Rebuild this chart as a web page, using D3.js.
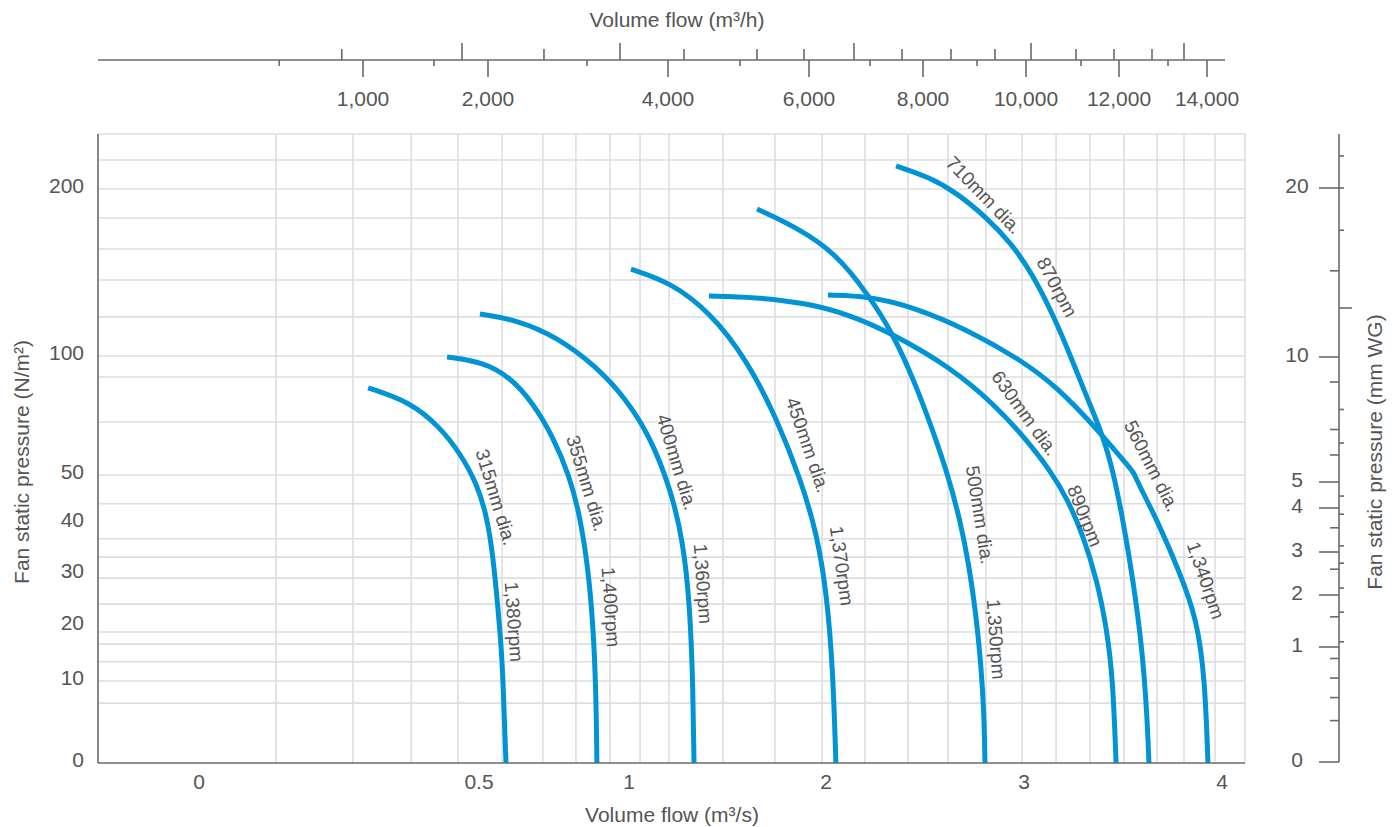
<!DOCTYPE html>
<html><head><meta charset="utf-8">
<script src="https://cdn.jsdelivr.net/npm/d3@7"></script>
<style>
body{margin:0;background:#fff}
svg{display:block}
text{font-family:"Liberation Sans",Arial,Helvetica,sans-serif;fill:#555}
</style></head><body>
<svg id="chart" width="1399" height="827"></svg>
<script>
// ---------------- DATA ----------------
// bottom axis: volume flow (m³/s)
const xTickValues = [0, 0.5, 1, 2, 3, 4];
const xGridValues = [0.1375,0.275,0.379,0.4625,0.577,0.713,0.823,0.937,1.056,1.203,1.477,1.741,1.98,2.197,2.414,2.616,2.808,2.99,3.162,3.333,3.505,3.672,3.808,3.965];
// left axis: fan static pressure (N/m²)
const yTickValues = [0, 10, 20, 30, 40, 50, 100, 200];
const yGridValues = [7.3,10,13.5,16.7,18.9,24.2,29.2,33.3,36.9,44,50,72.3,91.2,100,123.4,145.5,164.1,182.6,200,217.4];
// right axis: fan static pressure (mm WG)
const wgTickValues = [0, 1, 2, 3, 4, 5, 10, 20];
const wgRightMinor = [21.9, 20, 17.5, 7.9, 6.56, 4.46, 3.86, 3.14, 2.74, 2.16, 1.67, 1.1];
const wgRightLong = [12.9];
const wgLeftMinor = [15.1, 9, 7.1, 6.08, 3.55, 2.6, 1.58, 0.9, 0.73, 0.56, 0.36];
// top axis: volume flow (m³/h)
const hTickValues = [1000, 2000, 4000, 6000, 8000, 10000, 12000, 14000];
const hTallAbove = [1792, 3467, 6789, 10108, 13477];
const hMedAbove = [830, 2622, 4227, 5262, 5929, 7632, 8544, 9398, 11075, 11892, 12750];
const hSmallBelow = [330, 1568, 3100, 5021, 7070, 9049, 11183, 13114];

// fan curves: [m³/s, N/m²]
const fan315 = [[0.302,86.6],[0.377,80.7],[0.430,70.2],[0.466,59.2],[0.496,48.3],[0.527,41.25],[0.547,33.3],[0.563,23.65],[0.577,14.4],[0.583,6.8],[0.590,0]];
const fan355 = [[0.443,99.6],[0.513,97.5],[0.603,91.2],[0.680,80.3],[0.747,66],[0.803,49.6],[0.837,41.25],[0.863,31.4],[0.880,20.6],[0.890,8.9],[0.893,0]];
const fan400 = [[0.503,125.1],[0.627,121.6],[0.760,111.4],[0.893,95.4],[0.993,81.5],[1.107,66],[1.208,47.5],[1.274,36.7],[1.310,23.65],[1.325,8.9],[1.330,0]];
const fan450 = [[1.010,152],[1.208,144.3],[1.411,126.3],[1.599,98.3],[1.751,73.5],[1.868,49.4],[1.954,38],[2.005,25.8],[2.035,12],[2.050,0]];
const fan500 = [[1.650,188],[1.848,177.2],[2.050,161.7],[2.222,135.3],[2.338,113.2],[2.444,89.9],[2.535,69.7],[2.616,50],[2.677,40.6],[2.722,31.8],[2.758,22.1],[2.783,12.9],[2.798,6.1],[2.803,0]];
const fan630 = [[1.406,135.9],[1.635,135.3],[1.904,131.7],[2.121,124.6],[2.338,113.2],[2.626,95.4],[2.854,79.4],[3.005,65.5],[3.131,52.1],[3.222,44.8],[3.298,37.6],[3.369,28.8],[3.419,19.3],[3.449,10.2],[3.465,0]];
const fan560 = [[2.010,136.5],[2.212,135.9],[2.444,129.3],[2.717,115.6],[2.985,98.3],[3.167,87],[3.374,68.9],[3.551,51.3],[3.551,51.3],[3.601,46.25],[3.672,40.6],[3.788,30.2],[3.874,21.2],[3.914,10.2],[3.929,0]];
const fan710 = [[2.354,213.8],[2.520,207.2],[2.662,197.6],[2.808,183.2],[2.934,167.7],[3.040,149.7],[3.152,123.4],[3.237,99.6],[3.323,81.5],[3.394,67.5],[3.449,52.1],[3.500,40.6],[3.551,28.8],[3.596,16.2],[3.621,6.1],[3.631,0]];
const fanSeries = [fan315, fan355, fan400, fan450, fan500, fan630, fan560, fan710];

// curve annotations: text, anchor [m³/s, N/m²], angle (deg)
const curveLabels = [
  ["315mm dia.", 0.557, 45.4, 73], ["1,380rpm", 0.617, 20.8, 86],
  ["355mm dia.", 0.860, 48.3, 73], ["1,400rpm", 0.940, 23.65, 86],
  ["400mm dia.", 1.244, 55.5, 73], ["1,360rpm", 1.376, 28.1, 86],
  ["450mm dia.", 1.909, 62.6, 71], ["1,370rpm", 2.081, 31.6, 82],
  ["500mm dia.", 2.778, 41.7, 81], ["1,350rpm", 2.859, 17.6, 86],
  ["710mm dia.", 2.798, 196.4, 46], ["870rpm", 3.167, 141.3, 62],
  ["630mm dia.", 3.005, 76, 54], ["890rpm", 3.308, 41.5, 68],
  ["560mm dia.", 3.646, 53.8, 63], ["1,340rpm", 3.919, 28.8, 71]
];

// ---------------- LAYOUT ----------------
const svg = d3.select("#chart");
const L = 98, R = 1245, T = 134, B = 763;
const gridColor = "#dedede", axisColor = "#6a6a6a", curveColor = "#0093d5";
const FS = 21;

const x = d3.scaleLinear().domain([0, 0.5, 1, 2, 3, 4]).range([199, 479, 629, 826, 1024, 1222]);
const y = d3.scaleLinear().domain([0, 10, 20, 30, 40, 50, 100, 200]).range([763, 681, 626, 574, 523, 475, 356, 189]);
const yWG = d3.scaleLinear().domain([0, 1, 2, 3, 4, 5, 10, 20]).range([762, 647, 595, 552, 508, 482, 357, 188]);
const xh = d3.scaleLinear().domain(hTickValues).range([363, 488, 668, 809, 923, 1026, 1119, 1207]);

// grid
const grid = svg.append("g");
grid.selectAll("line.v").data(xGridValues).join("line")
  .attr("x1", d => x(d)).attr("x2", d => x(d)).attr("y1", T).attr("y2", B)
  .attr("stroke", gridColor).attr("stroke-width", 1.6);
grid.selectAll("line.h").data(yGridValues).join("line")
  .attr("x1", L).attr("x2", R).attr("y1", d => y(d)).attr("y2", d => y(d))
  .attr("stroke", gridColor).attr("stroke-width", 1.6);
grid.append("line").attr("x1", L).attr("x2", R).attr("y1", T).attr("y2", T).attr("stroke", gridColor).attr("stroke-width", 1.6);
grid.append("line").attr("x1", R).attr("x2", R).attr("y1", T).attr("y2", B).attr("stroke", gridColor).attr("stroke-width", 1.6);

// curves
const line = d3.line().x(d => x(d[0])).y(d => y(d[1])).curve(d3.curveBasis);
svg.append("g").selectAll("path").data(fanSeries).join("path")
  .attr("d", line).attr("fill", "none").attr("stroke", curveColor)
  .attr("stroke-width", 5).attr("stroke-linecap", "butt");

// axes lines left/bottom
svg.append("line").attr("x1", L).attr("x2", L).attr("y1", T).attr("y2", B).attr("stroke", axisColor).attr("stroke-width", 1.6);
svg.append("line").attr("x1", L).attr("x2", R).attr("y1", B).attr("y2", B).attr("stroke", axisColor).attr("stroke-width", 1.6);

// bottom labels
svg.append("g").selectAll("text").data(xTickValues).join("text")
  .attr("x", d => x(d)).attr("y", 782).attr("dy", "0.35em")
  .attr("text-anchor", "middle").attr("font-size", FS).text(d => d3.format("")(d));
svg.append("text").attr("x", 672).attr("y", 815).attr("dy", "0.35em").attr("text-anchor", "middle")
  .attr("font-size", FS).text("Volume flow (m³/s)");

// left labels
svg.append("g").selectAll("text").data(yTickValues).join("text")
  .attr("x", 84).attr("y", d => y(d) - 3).attr("dy", "0.35em")
  .attr("text-anchor", "end").attr("font-size", FS).text(d => d);
svg.append("text").attr("transform", "translate(22,462) rotate(-90)").attr("dy", "0.35em")
  .attr("text-anchor", "middle").attr("font-size", FS).text("Fan static pressure (N/m²)");

// right axis
const RX = 1339;
const ra = svg.append("g");
ra.append("line").attr("x1", RX).attr("x2", RX).attr("y1", T).attr("y2", yWG(0)).attr("stroke", axisColor).attr("stroke-width", 1.6);
ra.selectAll("line.maj").data(wgTickValues).join("line")
  .attr("x1", RX - 20).attr("x2", RX).attr("y1", d => yWG(d)).attr("y2", d => yWG(d))
  .attr("stroke", axisColor).attr("stroke-width", 1.6);
ra.selectAll("line.rm").data(wgRightMinor).join("line")
  .attr("x1", RX).attr("x2", RX + 5).attr("y1", d => yWG(d)).attr("y2", d => yWG(d))
  .attr("stroke", axisColor).attr("stroke-width", 1.6);
ra.selectAll("line.rl").data(wgRightLong).join("line")
  .attr("x1", RX).attr("x2", RX + 13).attr("y1", d => yWG(d)).attr("y2", d => yWG(d))
  .attr("stroke", axisColor).attr("stroke-width", 1.6);
ra.selectAll("line.lm").data(wgLeftMinor).join("line")
  .attr("x1", RX - 9).attr("x2", RX).attr("y1", d => yWG(d)).attr("y2", d => yWG(d))
  .attr("stroke", axisColor).attr("stroke-width", 1.6);
ra.selectAll("text").data(wgTickValues).join("text")
  .attr("x", 1297).attr("y", d => yWG(d) - 2).attr("dy", "0.35em")
  .attr("text-anchor", "middle").attr("font-size", FS).text(d => d);
svg.append("text").attr("transform", "translate(1375,452) rotate(-90)").attr("dy", "0.35em")
  .attr("text-anchor", "middle").attr("font-size", FS).text("Fan static pressure (mm WG)");

// top axis
const TY = 60;
const ta = svg.append("g");
ta.append("line").attr("x1", L).attr("x2", 1225).attr("y1", TY).attr("y2", TY).attr("stroke", axisColor).attr("stroke-width", 1.6);
ta.selectAll("line.lab").data(hTickValues).join("line")
  .attr("x1", d => xh(d)).attr("x2", d => xh(d)).attr("y1", TY).attr("y2", TY + 17)
  .attr("stroke", axisColor).attr("stroke-width", 1.6);
ta.selectAll("line.ta").data(hTallAbove).join("line")
  .attr("x1", d => xh(d)).attr("x2", d => xh(d)).attr("y1", TY - 17).attr("y2", TY)
  .attr("stroke", axisColor).attr("stroke-width", 1.6);
ta.selectAll("line.ma").data(hMedAbove).join("line")
  .attr("x1", d => xh(d)).attr("x2", d => xh(d)).attr("y1", TY - 11).attr("y2", TY)
  .attr("stroke", axisColor).attr("stroke-width", 1.6);
ta.selectAll("line.sb").data(hSmallBelow).join("line")
  .attr("x1", d => xh(d)).attr("x2", d => xh(d)).attr("y1", TY).attr("y2", TY + 6)
  .attr("stroke", axisColor).attr("stroke-width", 1.6);
ta.selectAll("text").data(hTickValues).join("text")
  .attr("x", d => xh(d)).attr("y", 99).attr("dy", "0.35em")
  .attr("text-anchor", "middle").attr("font-size", FS).text(d => d3.format(",")(d));
svg.append("text").attr("x", 677).attr("y", 20).attr("dy", "0.35em").attr("text-anchor", "middle")
  .attr("font-size", FS).text("Volume flow (m³/h)");

// curve labels
svg.append("g").selectAll("text").data(curveLabels).join("text")
  .attr("transform", d => `translate(${x(d[1])},${y(d[2])}) rotate(${d[3]})`)
  .attr("dy", "0.35em").attr("text-anchor", "middle").attr("font-size", 19)
  .text(d => d[0]);
</script>
</body></html>
